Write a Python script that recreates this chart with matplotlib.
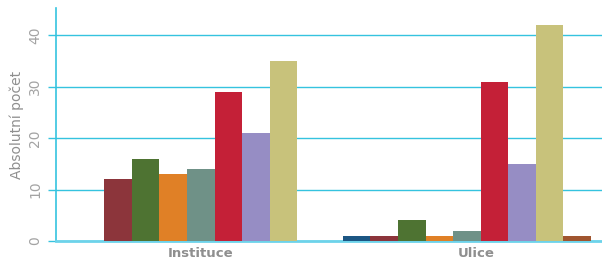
import matplotlib.pyplot as plt
import numpy as np

categories = ["Instituce", "Ulice"]
series_colors = ["#1c5683", "#8c353b", "#4e7332", "#e08026", "#6f9187",
                 "#c42037", "#968dc4", "#c8c27b", "#a0552f"]
values = [
    [0, 1],
    [12, 1],
    [16, 4],
    [13, 1],
    [14, 2],
    [29, 31],
    [21, 15],
    [35, 42],
    [0, 1],
]
yticks = [0, 10, 20, 30, 40]

plt.rcParams["font.family"] = ["DejaVu Sans"]
grid_c = "#35c3df"
text_c = "#8f8f8f"

fig = plt.figure(figsize=(6.02, 2.62), dpi=100)
ax = fig.add_axes([56 / 602, 1 - 241 / 262, 1 - 56 / 602, (241 - 8) / 262])

group_x = np.array([0, 9.65])
n = len(values)
for i, (vals, c) in enumerate(zip(values, series_colors)):
    ax.bar(group_x + (i - (n - 1) / 2), vals, width=1.0, color=c, zorder=3)

ax.set_xlim(-5.25, 14.55)
ax.set_ylim(0, 45.3)
ax.set_yticks(yticks)
ax.set_yticklabels([str(t) for t in yticks], rotation=90, va="center",
                   color="#a3a3a3", fontsize=10)
ax.set_xticks([0, 9.98])
ax.set_xticklabels(categories, color=text_c, fontsize=9.5, fontweight="bold")
ax.tick_params(axis="x", length=0, pad=4)
ax.tick_params(axis="y", length=6, width=1, color=grid_c, pad=4)
ax.yaxis.grid(True, color=grid_c, lw=1, zorder=1)
for s in ["top", "right"]:
    ax.spines[s].set_visible(False)
ax.spines["left"].set_color(grid_c)
ax.spines["left"].set_linewidth(1.2)
ax.spines["bottom"].set_color("#6dd3ea")
ax.spines["bottom"].set_linewidth(2)
ax.set_ylabel("Absolutní počet", color=text_c, fontsize=10, labelpad=3)

fig.savefig("out.png", dpi=100)
